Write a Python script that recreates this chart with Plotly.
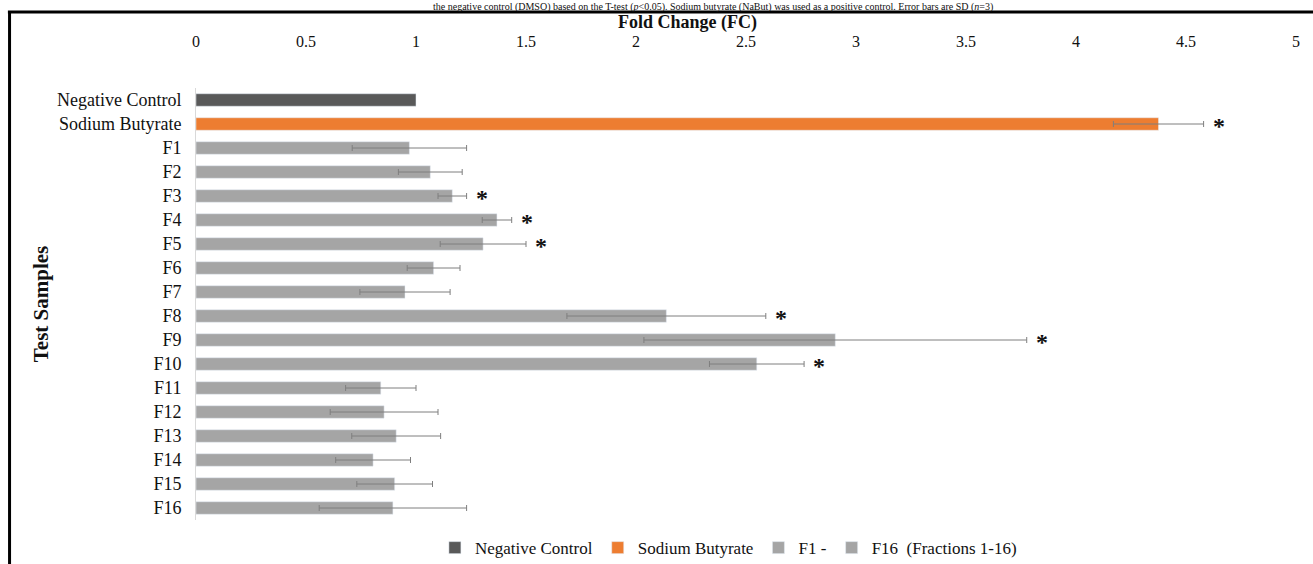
import plotly.graph_objects as go

categories = ["Negative Control", "Sodium Butyrate", "F1", "F2", "F3", "F4", "F5", "F6", "F7", "F8",
              "F9", "F10", "F11", "F12", "F13", "F14", "F15", "F16"]
fold_change = [1.0, 4.375, 0.97, 1.065, 1.165, 1.368, 1.305, 1.08, 0.95, 2.138,
               2.906, 2.549, 0.84, 0.855, 0.91, 0.805, 0.903, 0.895]
sd = [0.0, 0.205, 0.26, 0.145, 0.065, 0.067, 0.195, 0.12, 0.205, 0.452,
      0.87, 0.215, 0.16, 0.245, 0.202, 0.17, 0.172, 0.335]
significant = [False, True, False, False, True, True, True, False, False, True,
               True, True, False, False, False, False, False, False]
x_ticks = [0, 0.5, 1, 1.5, 2, 2.5, 3, 3.5, 4, 4.5, 5]

FONT = "Liberation Serif"
C_NEG = "#595959"
C_NABUT = "#ED7D31"
C_FRAC = "#A5A5A5"
C_ERR = "#7F7F7F"
TXT = "#111111"

fig = go.Figure()

def err(vals):
    return dict(type="data", array=vals, symmetric=True, color=C_ERR, thickness=1, width=3)

fig.add_trace(go.Bar(y=categories[0:1], x=fold_change[0:1], orientation="h",
                     name="Negative Control", marker_color=C_NEG, width=0.52))
fig.add_trace(go.Bar(y=categories[1:2], x=fold_change[1:2], orientation="h",
                     name="Sodium Butyrate", marker_color=C_NABUT, width=0.52,
                     error_x=err(sd[1:2])))
fig.add_trace(go.Bar(y=categories[2:17], x=fold_change[2:17], orientation="h",
                     name="F1 -", marker_color=C_FRAC, width=0.52,
                     error_x=err(sd[2:17])))
fig.add_trace(go.Bar(y=categories[17:], x=fold_change[17:], orientation="h",
                     name="F16  (Fractions 1-16)", marker_color=C_FRAC, width=0.52,
                     error_x=err(sd[17:])))

annotations = []
for cat, v, s, sig in zip(categories, fold_change, sd, significant):
    if sig:
        annotations.append(dict(x=v + s, y=cat, xref="x", yref="y", text="<b>*</b>",
                                showarrow=False, xanchor="left", xshift=7, yshift=-2,
                                font=dict(family=FONT, size=24, color=TXT)))

# x axis title (placed as in the reference, left of centre)
annotations.append(dict(x=0.447, y=1.1505, xref="paper", yref="paper",
                        text="<b>Fold Change (FC)</b>", showarrow=False,
                        xanchor="center", yanchor="middle", borderpad=0,
                        font=dict(family=FONT, size=18, color=TXT)))

# caption line at the top of the image
annotations.append(dict(x=0.47, y=1.2037, xref="paper", yref="paper",
                        text="the negative control (DMSO) based on the T-test (<i>p</i>&lt;0.05). "
                             "Sodium butyrate (NaBut) was used as a positive control. Error bars are SD (<i>n</i>=3)",
                        showarrow=False, xanchor="center", yanchor="top", borderpad=0,
                        font=dict(family=FONT, size=10, color=TXT)))

shapes = [
    dict(type="line", xref="paper", yref="paper", x0=-0.171, x1=1.02, y0=1.1759, y1=1.1759,
         line=dict(color="black", width=3)),
    dict(type="line", xref="paper", yref="paper", x0=-0.1695, x1=-0.1695, y0=1.1759, y1=-0.11,
         line=dict(color="black", width=3)),
]

fig.update_layout(
    width=1313, height=564,
    margin=dict(l=196, r=17, t=88, b=44, autoexpand=False),
    paper_bgcolor="white", plot_bgcolor="white",
    barmode="overlay",
    font=dict(family=FONT, size=17, color=TXT),
    showlegend=True,
    legend=dict(orientation="h", x=0.484, xanchor="center", y=-0.065, yanchor="middle",
                font=dict(family=FONT, size=17, color=TXT), itemwidth=30,
                traceorder="normal", bgcolor="rgba(0,0,0,0)"),
    annotations=annotations,
    shapes=shapes,
    xaxis=dict(range=[0, 5], side="top", tickvals=x_ticks, ticktext=[f"{t:g}" for t in x_ticks],
               showgrid=False, zeroline=False, showline=False, ticks="",
               ticklabelstandoff=37, automargin=False,
               tickfont=dict(family=FONT, size=16, color=TXT)),
    yaxis=dict(categoryorder="array", categoryarray=categories, autorange="reversed",
               showgrid=False, zeroline=False, showline=True, linecolor="#D9D9D9", linewidth=1,
               ticks="", ticklabelstandoff=10, automargin=False,
               tickfont=dict(family=FONT, size=18, color=TXT),
               title=dict(text="<b>Test Samples</b>", standoff=2,
                          font=dict(family=FONT, size=21, color=TXT))),
)

fig.write_html("out.html", config={"displayModeBar": False},
               post_script="document.body.style.margin='0px';")
